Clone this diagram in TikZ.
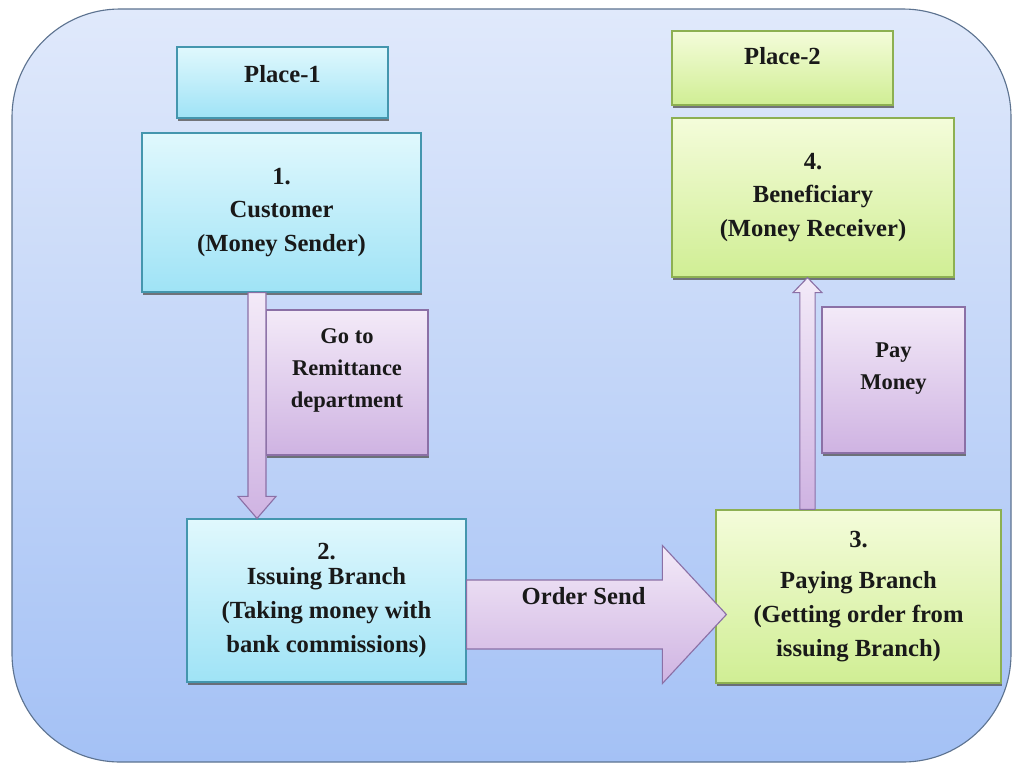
\documentclass[tikz,border=0pt]{standalone}
\usepackage{fontspec}
\setmainfont{Liberation Serif}
\usepackage{xcolor}
\usepackage{tikz}
\usetikzlibrary{
	calc,
	shadows
}

\definecolor{frameTop}{HTML}{E0E9FB}
\definecolor{frameBot}{HTML}{A4C1F5}
\definecolor{frameLine}{HTML}{5D7390}
\definecolor{cyanTop}{HTML}{E0F8FD}
\definecolor{cyanBot}{HTML}{9FE3F6}
\definecolor{cyanLine}{HTML}{4496AE}
\definecolor{greenTop}{HTML}{F4FCDA}
\definecolor{greenBot}{HTML}{D0EE94}
\definecolor{greenLine}{HTML}{8DB052}
\definecolor{lilacTop}{HTML}{F3EAF8}
\definecolor{lilacBot}{HTML}{CFB3E2}
\definecolor{lilacLine}{HTML}{8B70A6}

% raise a block of lines inside its box
\newcommand\liftbox[2]{\raisebox{#1}[\height][\depth]{\begin{tabular}{@{}c@{}}#2\end{tabular}}}

% block arrow: from, to, shaft half width, head half width, head length
\newcommand\blockarrow[5]{%
	\draw[flowarrow] ($(#1)!#3!90:(#2)$)
		-- ($(#2)!#5!(#1)!#3!90:(#2)$)
		-- ($(#2)!#5!(#1)!#4!90:(#2)$)
		-- (#2)
		-- ($(#2)!#5!(#1)!#4!-90:(#2)$)
		-- ($(#2)!#5!(#1)!#3!-90:(#2)$)
		-- ($(#1)!#3!-90:(#2)$) -- cycle;}

\begin{document}
\begin{tikzpicture}[
				x=0.025cm, y=-0.025cm,
				box/.style={
					rectangle, draw, line width=0.8pt,
					align=center, text=black!90,
					font=\fontsize{17.5}{24}\selectfont\bfseries,
					drop shadow={shadow xshift=0.8pt, shadow yshift=-2pt, fill=black!65, opacity=0.8}
				},
				cyanbox/.style={
					box, draw=cyanLine, top color=cyanTop, bottom color=cyanBot
				},
				greenbox/.style={
					box, draw=greenLine, top color=greenTop, bottom color=greenBot
				},
				notebox/.style={
					box, draw=lilacLine, top color=lilacTop, bottom color=lilacBot,
					font=\fontsize{16}{22.5}\selectfont\bfseries
				},
				flowarrow/.style={
					draw=lilacLine, line width=0.8pt, top color=lilacTop, bottom color=lilacBot
				},
				arrowtext/.style={
					font=\fontsize{17.5}{24}\selectfont\bfseries, text=black!90
				}
				]
				
				\useasboundingbox (0,0) rectangle (1013,765);
				\fill[white] (0,0) rectangle (1013,765);
				
				% frame
				\draw[frameLine, line width=0.8pt, top color=frameTop, bottom color=frameBot,
					rounded corners=2.7cm] (12,9) rectangle (1011,762);
				
				% place 1
				\node[cyanbox, minimum width=5.275cm, minimum height=1.775cm] (place1) at (282.5,82.5) {\liftbox{5pt}{Place-1}};
				
				% customer
				\node[cyanbox, minimum width=6.975cm, minimum height=3.975cm] (customer) at (281.5,212.5) {1.\\Customer\\(Money Sender)};
				
				% place 2
				\node[greenbox, minimum width=5.525cm, minimum height=1.85cm] (place2) at (782.5,68) {\liftbox{7pt}{Place-2}};
				
				% beneficiary
				\node[greenbox, minimum width=7.05cm, minimum height=3.975cm] (benef) at (813,197.5) {4.\\Beneficiary\\(Money Receiver)};
				
				% remittance note
				\node[notebox, minimum width=4.05cm, minimum height=3.625cm] (remit) at (347,382.5) {\liftbox{9.5pt}{Go to\\Remittance\\department}};
				
				% issuing branch
				\node[cyanbox, minimum width=6.975cm, minimum height=4.075cm] (issuing) at (326.5,600.5) {2.\\[-6pt]Issuing Branch\\(Taking money with\\bank commissions)};
				
				% paying branch
				\node[greenbox, minimum width=7.125cm, minimum height=4.325cm] (paying) at (858.5,596.5) {3.\\[5pt]Paying Branch\\(Getting order from\\issuing Branch)};
				
				% pay money note
				\node[notebox, minimum width=3.575cm, minimum height=3.65cm] (paymoney) at (893.5,380) {\liftbox{9pt}{Pay\\Money}};
				
				% arrow ends
				\coordinate (dnS) at ($(customer.south)+(-24.5,0)$);
				\coordinate (dnE) at (dnS |- issuing.north);
				\coordinate (ordS) at ($(issuing.east)+(0,14)$);
				\coordinate (ordE) at ($(ordS -| paying.west)+(11,0)$);
				\coordinate (upS) at ($(paying.north)+(-51,0)$);
				\coordinate (upE) at (upS |- benef.south);
				
				% block arrows
				\blockarrow{dnS}{dnE}{0.225cm}{0.475cm}{0.55cm}
				\blockarrow{ordS}{ordE}{0.8625cm}{1.725cm}{1.6cm}
				\blockarrow{upS}{upE}{0.19cm}{0.36cm}{0.375cm}
				
				% order label
				\node[arrowtext] (ordertxt) at ($(issuing.east)+(117,-4)$) {Order Send};
			\end{tikzpicture}
\end{document}
